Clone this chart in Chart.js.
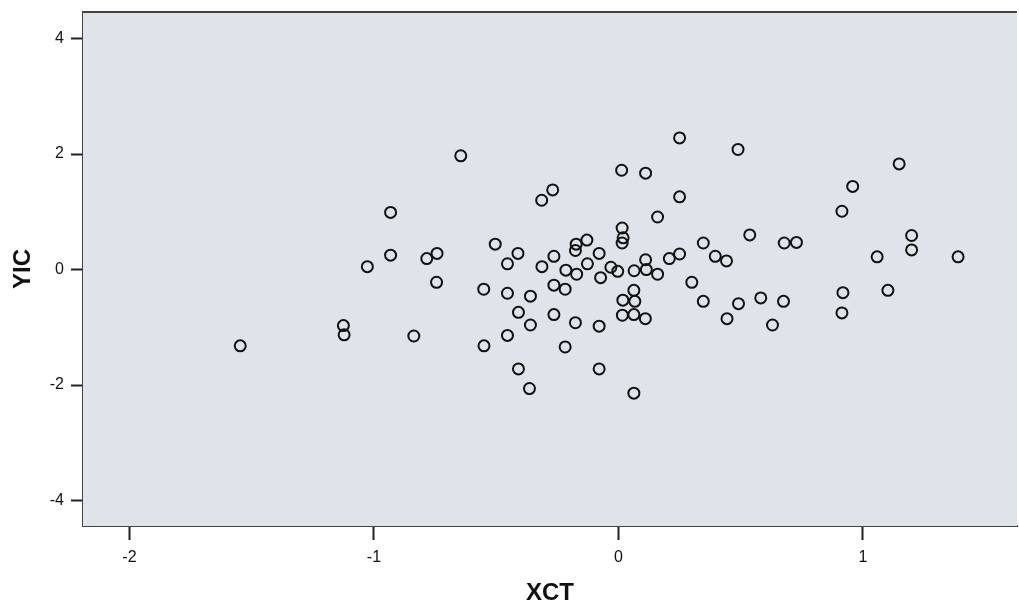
<!DOCTYPE html>
<html>
<head>
<meta charset="utf-8">
<script src="https://cdn.jsdelivr.net/npm/chart.js@4/dist/chart.umd.min.js"></script>
<style>
  html, body { margin: 0; padding: 0; background: #fff; }
  #wrap { width: 1019px; height: 608px; }
</style>
</head>
<body>
<div id="wrap"><canvas id="scatter-chart"></canvas></div>
<script>
// Data
var xct = [-0.645, -0.932, -0.932, -1.027, -0.784, -0.742, -0.744, -0.504, -0.551, -1.125,
           -1.122, -0.837, -0.550, -1.547, 0.013, 0.111, -0.269, -0.314, 0.015, 0.019,
           0.015, -0.129, -0.173, -0.176, -0.411, -0.454, -0.264, -0.079, -0.313, -0.215,
           -0.127, -0.171, -0.031, -0.003, -0.073, 0.064, 0.114, 0.111, -0.454, -0.360,
           -0.264, -0.218, 0.063, 0.018, 0.067, 0.016, 0.063, 0.110, -0.409, -0.264,
           -0.360, -0.176, -0.079, -0.454, -0.218, -0.409, -0.079, -0.364, 0.063, 0.250,
           0.489, 0.250, 0.160, 0.537, 0.347, 0.396, 0.442, 0.250, 0.208, 0.160,
           0.300, 0.347, 0.491, 0.582, 0.675, 0.444, 0.630, 1.148, 0.958, 0.914,
           1.199, 1.199, 1.058, 1.389, 1.102, 0.918, 0.914, 0.678, 0.728];
var yic = [1.97, 0.99, 0.25, 0.05, 0.19, 0.28, -0.22, 0.44, -0.34, -0.97,
           -1.13, -1.15, -1.32, -1.32, 1.72, 1.67, 1.38, 1.20, 0.72, 0.55,
           0.46, 0.51, 0.44, 0.33, 0.28, 0.10, 0.23, 0.28, 0.05, -0.01,
           0.10, -0.08, 0.04, -0.03, -0.14, -0.02, 0.00, 0.17, -0.41, -0.46,
           -0.27, -0.34, -0.36, -0.53, -0.55, -0.79, -0.78, -0.85, -0.74, -0.78,
           -0.96, -0.92, -0.98, -1.14, -1.34, -1.72, -1.72, -2.06, -2.14, 2.28,
           2.08, 1.26, 0.91, 0.60, 0.46, 0.23, 0.15, 0.27, 0.19, -0.08,
           -0.22, -0.55, -0.59, -0.49, -0.55, -0.85, -0.96, 1.83, 1.44, 1.01,
           0.59, 0.34, 0.22, 0.22, -0.36, -0.40, -0.75, 0.46, 0.47];
var xTicks = [-2, -1, 0, 1];
var yTicks = [-4, -2, 0, 2, 4];
var xRange = [-2.19, 1.63];
var yRange = [-4.44, 4.46];

var points = xct.map(function(x, i) { return { x: x, y: yic[i] }; });

// Plot background and top frame line
var plotFrame = {
    id: 'plotFrame',
    beforeDatasetsDraw: function(chart) {
        var a = chart.chartArea, ctx = chart.ctx;
        ctx.save();
        ctx.fillStyle = '#dfe4ea';
        ctx.fillRect(a.left, a.top, a.right - a.left, a.bottom - a.top);
        ctx.strokeStyle = '#444';
        ctx.lineWidth = 2;
        ctx.beginPath();
        ctx.moveTo(a.left, a.top);
        ctx.lineTo(a.right, a.top);
        ctx.stroke();
        ctx.restore();
    }
};

Chart.defaults.font.family = '"Liberation Sans", Arial, sans-serif';
Chart.defaults.color = '#111';

new Chart(document.getElementById('scatter-chart'), {
    type: 'scatter',
    data: {
        datasets: [{
            label: 'YIC',
            data: points,
            pointStyle: 'circle',
            pointRadius: 5.5,
            pointHoverRadius: 5.5,
            pointBorderWidth: 2,
            borderColor: '#111',
            backgroundColor: 'rgba(0,0,0,0)'
        }]
    },
    plugins: [plotFrame],
    options: {
        responsive: true,
        maintainAspectRatio: false,
        animation: false,
        layout: { autoPadding: false, padding: { top: 12, right: 2, bottom: 0, left: 0 } },
        plugins: {
            legend: { display: false },
            tooltip: { enabled: false }
        },
        scales: {
            x: {
                type: 'linear',
                min: xRange[0],
                max: xRange[1],
                afterBuildTicks: function(scale) {
                    scale.ticks = xTicks.map(function(v) { return { value: v }; });
                },
                afterFit: function(scale) {
                    scale.height = 82;
                    scale.paddingLeft = 0;
                    scale.paddingRight = 0;
                },
                grid: { drawOnChartArea: false, drawTicks: true, tickLength: 14, tickWidth: 2, tickColor: '#222' },
                border: { display: true, color: '#444', width: 2 },
                ticks: { padding: 8, font: { size: 16 }, color: '#111' },
                title: { display: true, text: 'XCT', font: { size: 24, weight: 'bold' }, color: '#111', padding: { top: 0, bottom: 0 } }
            },
            y: {
                type: 'linear',
                min: yRange[0],
                max: yRange[1],
                afterBuildTicks: function(scale) {
                    scale.ticks = yTicks.map(function(v) { return { value: v }; });
                },
                afterFit: function(scale) {
                    scale.width = 83;
                    scale.paddingTop = 0;
                    scale.paddingBottom = 0;
                },
                grid: { drawOnChartArea: false, drawTicks: true, tickLength: 12, tickWidth: 2, tickColor: '#222' },
                border: { display: true, color: '#444', width: 1.5 },
                ticks: { padding: 7, font: { size: 16 }, color: '#111' },
                title: { display: true, text: 'YIC', font: { size: 24, weight: 'bold' }, color: '#111', padding: { top: 9, bottom: 0 } }
            }
        }
    }
});
</script>
</body>
</html>
